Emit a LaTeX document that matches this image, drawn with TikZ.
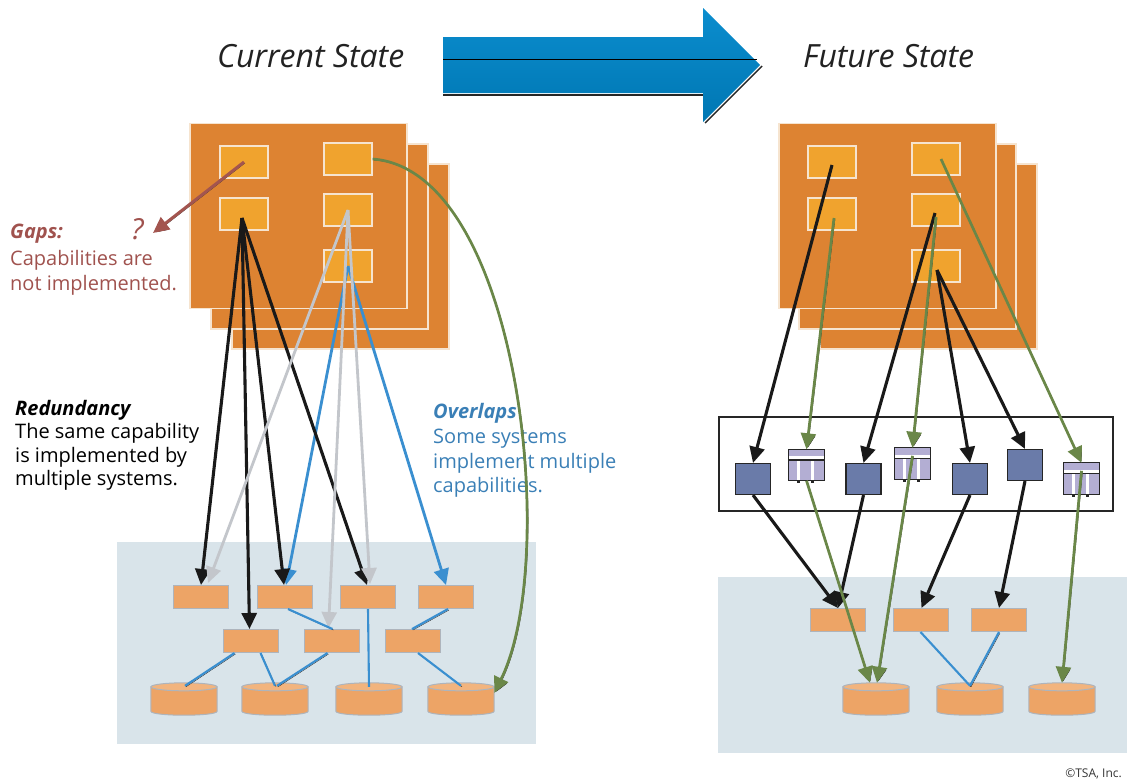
\documentclass[tikz,border=0pt]{standalone}
\usepackage{fontspec}
\setmainfont{Open Sans}
\usetikzlibrary{arrows.meta,calc}
\definecolor{stackc}{HTML}{DD8332}
\definecolor{capc}{HTML}{F0A32E}
\definecolor{boxline}{HTML}{F6E4CF}
\definecolor{panelc}{HTML}{D9E4EA}
\definecolor{sysc}{HTML}{EDA466}
\definecolor{sysline}{HTML}{AEB4BC}
\definecolor{cyltopc}{HTML}{F2B47E}
\definecolor{appc}{HTML}{6A7BA9}
\definecolor{pkgc}{HTML}{B3AED3}
\definecolor{arrowtop}{HTML}{0B8DCE}
\definecolor{arrowbot}{HTML}{0077B3}
\definecolor{greyc}{HTML}{C3C6CB}
\definecolor{bluec}{HTML}{3A8FD0}
\definecolor{greenc}{HTML}{6A8748}
\definecolor{brownc}{HTML}{A3554F}
\definecolor{gaptext}{HTML}{A0524E}
\definecolor{ovltext}{HTML}{3A7FB6}
\definecolor{titlec}{HTML}{222222}
\newcommand\drawcyl[1]{%
  \filldraw[cylbody] ([yshift=-4]#1.north west) -- ([yshift=4]#1.south west) .. controls ([yshift=-1.33]#1.south west) and ([yshift=-1.33]#1.south east) .. ([yshift=4]#1.south east) -- ([yshift=-4]#1.north east) -- cycle;
  \filldraw[cyltop] ([yshift=-4]#1.north) ellipse [x radius=33, y radius=4];
}
\newcommand\pkgdeco[1]{%
  \fill[white] ([yshift=-7]#1.north west) rectangle ([yshift=-10]#1.north east);
  \fill[black!85] ([yshift=-10]#1.north west) rectangle ([yshift=-11.5]#1.north east);
  \fill[white] ([xshift=9,yshift=-11.5]#1.north west) rectangle ([xshift=12]#1.south west);
  \fill[white] ([xshift=23,yshift=-11.5]#1.north west) rectangle ([xshift=26]#1.south west);
  \fill[black!85] ([xshift=9]#1.south west) rectangle ([xshift=12,yshift=-2.5]#1.south west);
  \fill[black!85] ([xshift=23]#1.south west) rectangle ([xshift=26,yshift=-2.5]#1.south west);
  \draw[black!85, line width=1.1] (#1.north west) rectangle (#1.south east);
}
\tikzset{
  stackbox/.style={draw=boxline, line width=1.3, fill=stackc, minimum width=217, minimum height=185, inner sep=0},
  capbox/.style={draw=boxline, line width=1.3, fill=capc, minimum width=48, minimum height=32, inner sep=0},
  sysbox/.style={draw=sysline, line width=1, fill=sysc, minimum width=55, minimum height=23, inner sep=0},
  dbnode/.style={minimum width=66, minimum height=32, inner sep=0},
  cylbody/.style={fill=sysc, draw=sysline, line width=1},
  cyltop/.style={fill=cyltopc, draw=sysline, line width=1},
  panel/.style={fill=panelc, draw=none, inner sep=0},
  appbox/.style={fill=appc, draw=black!85, line width=1.1, minimum width=35, minimum height=31, inner sep=0},
  pkgbox/.style={fill=pkgc, draw=none, minimum width=36, minimum height=31, inner sep=0},
  shadowed/.style={preaction={draw=black!85, transform canvas={shift={(1pt,-1pt)}}}},
  conn/.style={line width=3.1, -{Triangle[length=16pt,width=15pt]}},
  blk/.style={conn, draw=black!90},
  gry/.style={conn, draw=greyc, line width=2.8},
  blu/.style={conn, draw=bluec, line width=2.8},
  grn/.style={conn, draw=greenc, line width=2.7, shadowed},
  brn/.style={conn, draw=brownc, line width=3, shadowed},
  link/.style={draw=bluec, line width=2.1, shadowed},
  txt/.style={anchor=base west, inner sep=0, font=\fontsize{20}{24}\selectfont},
  ttl/.style={anchor=base west, inner sep=0, text=titlec, font=\fontsize{32}{38}\selectfont\itshape},
}
\begin{document}
\begin{tikzpicture}[x=1pt,y=-1pt]
\useasboundingbox (0,0) rectangle (1127,780);

% ---------- big arrow ----------
\draw[black!85, line width=2.2] (443,95) -- (703,95);
\draw[black!85, line width=1.4] (705,123) -- (762,66);
\shade[top color=arrowtop, bottom color=arrowbot] (443,37) -- (703,37) -- (703,8) -- (760,65) -- (703,122) -- (703,93) -- (443,93) -- cycle;
\draw[black, line width=0.8] (443,59) -- (757,59);

% ---------- titles ----------
\node[ttl] (tcur) at (217,67) {Current State};
\node[ttl] (tfut) at (803,67) {Future State};

% ---------- left stack ----------
\node[stackbox] (F3) at (340.5,256.5) {};
\node[stackbox] (F2) at (319.5,236.5) {};
\node[stackbox] (F1) at (298.5,216) {};
\node[capbox] (A1) at (244,162) {};
\node[capbox] (A2) at (244,214) {};
\node[capbox] (B1) at (348,159) {};
\node[capbox] (B2) at (348,210) {};
\node[capbox] (B3) at (348,266) {};

% ---------- right stack ----------
\node[stackbox] (G3) at (928.5,256.5) {};
\node[stackbox] (G2) at (907.5,236.5) {};
\node[stackbox] (G1) at (887.5,216) {};
\node[capbox] (C1) at (832,162) {};
\node[capbox] (C2) at (832,214) {};
\node[capbox] (D1) at (936,159) {};
\node[capbox] (D2) at (936,210) {};
\node[capbox] (D3) at (936,266) {};

% ---------- left bottom panel ----------
\node[panel, minimum width=419, minimum height=202] (PL) at (326.5,643) {};
\node[sysbox] (L1) at (201,597) {};
\node[sysbox] (L2) at (285,597) {};
\node[sysbox] (L3) at (368,597) {};
\node[sysbox] (L4) at (446,597) {};
\node[sysbox] (M1) at (250.5,641) {};
\node[sysbox] (M2) at (331.5,641) {};
\node[sysbox] (M3) at (413,641) {};
\node[dbnode] (DB1) at (184,699) {};
\node[dbnode] (DB2) at (275,699) {};
\node[dbnode] (DB3) at (369,699) {};
\node[dbnode] (DB4) at (461,699) {};
\drawcyl{DB1}\drawcyl{DB2}\drawcyl{DB3}\drawcyl{DB4}

% ---------- right bottom panel ----------
\node[panel, minimum width=409, minimum height=176] (PR) at (922.5,665) {};
\node[sysbox] (R1) at (838,620) {};
\node[sysbox] (R2) at (920.5,620) {};
\node[sysbox] (R3) at (999,620) {};
\node[dbnode] (RDB1) at (876,699) {};
\node[dbnode] (RDB2) at (970,699) {};
\node[dbnode] (RDB3) at (1062,699) {};
\drawcyl{RDB1}\drawcyl{RDB2}\drawcyl{RDB3}

% ---------- system box ----------
\node[draw=black!85, line width=1.2, fill=white, minimum width=394, minimum height=94, inner sep=0] (SB) at (916,464) {};
\node[appbox] (S1) at (753,479) {};
\node[pkgbox] (P1) at (806.5,465) {};
\node[appbox] (S2) at (863.5,479) {};
\node[pkgbox] (P2) at (912.5,463.5) {};
\node[appbox] (S3) at (970,479) {};
\node[appbox] (S4) at (1025,465) {};
\node[pkgbox] (P3) at (1081.5,478.5) {};
\pkgdeco{P1}\pkgdeco{P2}\pkgdeco{P3}

% ---------- texts ----------
\node[txt, text=gaptext, font=\fontsize{20}{24}\selectfont\bfseries\itshape] (gap0) at (10,238) {Gaps:};
\node[anchor=base west, inner sep=0, text=gaptext, font=\fontsize{29}{32}\selectfont\itshape] (qm) at (131,239) {?};
\node[txt, text=gaptext] (gap1) at (10,265) {Capabilities are};
\node[txt, text=gaptext] (gap2) at (10,290) {not implemented.};

\node[txt, text=black, font=\fontsize{20}{24}\selectfont\bfseries\itshape] (red0) at (15,415) {Redundancy};
\node[txt, text=black] (red1) at (15,438) {The same capability};
\node[txt, text=black] (red2) at (15,462) {is implemented by};
\node[txt, text=black] (red3) at (15,485) {multiple systems.};

\node[txt, text=ovltext, font=\fontsize{20}{24}\selectfont\bfseries\itshape] (ovl0) at (433,418) {Overlaps};
\node[txt, text=ovltext] (ovl1) at (433,443) {Some systems};
\node[txt, text=ovltext] (ovl2) at (433,468) {implement multiple};
\node[txt, text=ovltext] (ovl3) at (433,492) {capabilities.};

\node[anchor=base east, inner sep=0, text=black!80, font=\fontsize{12}{14}\selectfont] (copy) at (1122,777) {©TSA, Inc.};

% ---------- left connectors ----------
\coordinate (gapend) at (153,233);
\draw[brn] (A1.center) -- (gapend);

\draw[blu] (B3.center) -- ([xshift=1]L2.north);
\draw[blu] (B3.center) -- (L4.north);

\draw[blk] ([shift={(-2,4)}]A2.center) -- (L1.north);
\draw[blk] ([shift={(-2,4)}]A2.center) -- ([xshift=-1]M1.north);
\draw[blk] ([shift={(-2,4)}]A2.center) -- ([xshift=-1]L2.north);
\draw[blk] ([shift={(-2,4)}]A2.center) -- ([xshift=-1]L3.north);

\draw[gry] (B2.center) -- ([xshift=7,yshift=2]L1.north);
\draw[gry] (B2.center) -- ([xshift=-3,yshift=1]M2.north);
\draw[gry] (B2.center) -- ([xshift=2,yshift=1]L3.north);

\draw[grn] (B1.east) .. controls (520,170) and (560,560) .. ([yshift=6]DB4.east);

\draw[link] ([xshift=3]L2.south) -- ([xshift=1]M2.north);
\draw[draw=bluec, line width=2.1] (L3.south) -- ([yshift=-4]DB3.north);
\draw[link] ([xshift=2]L4.south) -- ([xshift=-1]M3.north);
\draw[link] ([xshift=-16]M1.south) -- ([xshift=1,yshift=-3]DB1.north);
\draw[link] ([xshift=10]M1.south) -- ([yshift=-3]DB2.north);
\draw[link] ([xshift=-4]M2.south) -- ([xshift=2,yshift=-3]DB2.north);
\draw[link] ([xshift=5]M3.south) -- ([yshift=-3]DB4.north);

% ---------- right connectors ----------
\draw[blk] ([yshift=-3]C1.center) -- (S1.north);
\draw[blk] ([shift={(-1,3)}]D2.center) -- (S2.north);
\draw[blk] ([shift={(1,4)}]D3.center) -- (S3.north);
\draw[blk] ([shift={(1,4)}]D3.center) -- (S4.north);

\draw[grn] ([shift={(2,4)}]C2.center) -- (P1.north);
\draw[grn] ([yshift=-7]D2.center) -- (P2.north);
\draw[grn] ([xshift=5]D1.center) -- (P3.north);

\draw[blk] (S1.south) -- (R1.north);
\draw[blk] (S2.south) -- (R1.north);
\draw[blk] (S3.south) -- ([xshift=1]R2.north);
\draw[blk] (S4.south) -- (R3.north);

\draw[grn] (P1.south) -- ([xshift=-6]RDB1.north);
\draw[grn] ([yshift=-8]P2.north) -- ([xshift=1]RDB1.north);
\draw[grn] ([yshift=-8]P3.north) -- (RDB3.north);

\draw[link] (R2.south) -- ([yshift=-3]RDB2.north);
\draw[link] (R3.south) -- ([yshift=-3]RDB2.north);
\end{tikzpicture}
\end{document}
